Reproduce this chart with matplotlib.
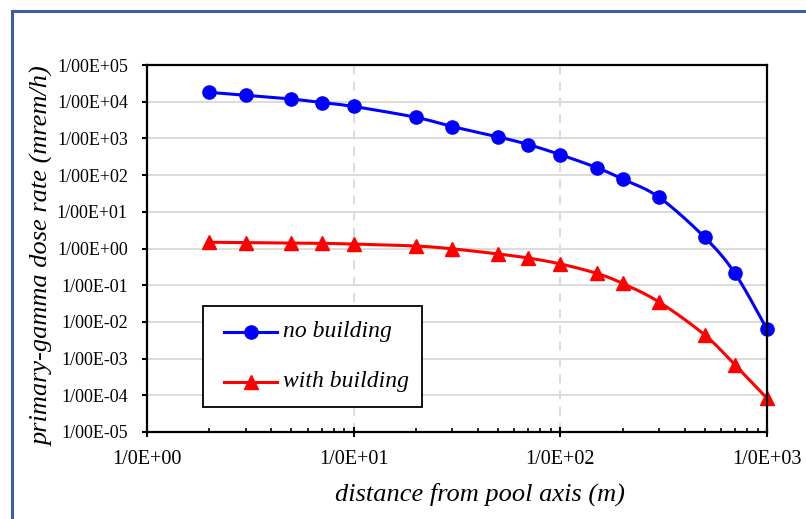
import numpy as np
import matplotlib
matplotlib.use("Agg")
import matplotlib.pyplot as plt
from matplotlib.ticker import FuncFormatter, LogLocator, NullFormatter
from matplotlib.lines import Line2D
from matplotlib.patches import Rectangle

# distance from pool axis (m)
dist = [2, 3, 5, 7, 10, 20, 30, 50, 70, 100, 150, 200, 300, 500, 700, 1000]
# dose rates (mrem/h)
no_building = [1.8e4, 1.5e4, 1.18e4, 9.5e3, 7.4e3, 3.76e3, 2.1e3, 1.1e3, 680,
               360, 160, 78, 25, 2.0, 0.21, 0.0063]
with_building = [1.48, 1.45, 1.42, 1.39, 1.32, 1.17, 0.98, 0.71, 0.55,
                 0.38, 0.21, 0.112, 0.035, 0.0044, 6.7e-4, 8.3e-5]
labels = ['no building', 'with building']

plt.rcParams['font.family'] = ['Liberation Serif', 'DejaVu Serif']

W, H = 806, 519
fig = plt.figure(figsize=(W/100, H/100), dpi=100)
ax = fig.add_axes([147/W, 1-432/H, 620/W, 367/H])


def smooth(x, y, n=30):
    # Excel-like smoothed line: Catmull-Rom in (scaled) log space
    u = np.log10(x)*206.7
    v = np.log10(y)*36.7
    P = np.column_stack([u, v])
    P = np.vstack([P[0], P, P[-1]])
    out = []
    t = np.linspace(0, 1, n)[:, None]
    for i in range(1, len(P)-2):
        p0, p1, p2, p3 = P[i-1], P[i], P[i+1], P[i+2]
        c1 = p1 + (p2-p0)/6
        c2 = p2 - (p3-p1)/6
        seg = (1-t)**3*p1 + 3*(1-t)**2*t*c1 + 3*(1-t)*t**2*c2 + t**3*p2
        out.append(seg)
    out = np.vstack(out)
    return 10**(out[:, 0]/206.7), 10**(out[:, 1]/36.7)


sx, sy = smooth(dist, no_building)
ax.plot(sx, sy, color='#0000ff', lw=2.2, zorder=3, clip_on=False)
ax.plot(dist, no_building, 'o', color='#0000ff', ms=9.5, zorder=4, clip_on=False)
sx, sy = smooth(dist, with_building)
ax.plot(sx, sy, color='#ff0000', lw=2.2, zorder=3, clip_on=False)
ax.plot(dist, with_building, '^', color='#ff0000', ms=10, zorder=4, clip_on=False)

ax.set_xscale('log')
ax.set_yscale('log')
ax.set_xlim(1, 1000)
ax.set_ylim(1e-5, 1e5)

ax.yaxis.set_major_locator(LogLocator(base=10, numticks=20))
ax.yaxis.set_minor_locator(LogLocator(base=10, subs=[], numticks=20))
ax.xaxis.set_major_locator(LogLocator(base=10, numticks=10))
ax.xaxis.set_minor_locator(LogLocator(base=10, subs=np.arange(2, 10), numticks=10))
ax.xaxis.set_minor_formatter(NullFormatter())


def fmt_y(v, pos):
    e = int(round(np.log10(v)))
    return "1/00E%+03d" % e


def fmt_x(v, pos):
    e = int(round(np.log10(v)))
    return "1/0E%+03d" % e


ax.yaxis.set_major_formatter(FuncFormatter(fmt_y))
ax.xaxis.set_major_formatter(FuncFormatter(fmt_x))

ax.tick_params(axis='y', which='major', direction='out', length=3.8, width=1.5,
               labelsize=13, pad=10)
ax.tick_params(axis='x', which='major', direction='inout', length=7.5, width=1.5,
               labelsize=14.5, pad=9)
ax.tick_params(axis='x', which='minor', direction='in', length=2.8, width=1.2)

ax.grid(True, axis='y', which='major', color='#d9d9d9', lw=1.3, zorder=0)
ax.grid(True, axis='x', which='major', color='#d9d9d9', lw=1.3, ls=(0, (5, 4)), zorder=0)
ax.set_axisbelow(True)
for sp in ax.spines.values():
    sp.set_color('black')
    sp.set_linewidth(1.6)
    sp.set_zorder(5)

# legend box, drawn in figure pixels to match the reference placement
px = lambda x, y: (x/W, 1-y/H)
fig.add_artist(Rectangle(px(203, 407), 219/W, 101/H, transform=fig.transFigure,
                         facecolor='white', edgecolor='black', lw=1.3, zorder=6))
styles = [('#0000ff', 'o', 9.5), ('#ff0000', '^', 10)]
for i, (lab, (c, m, s)) in enumerate(zip(labels, styles)):
    yy = 332 + 50*i
    fig.add_artist(Line2D([224/W, 277/W], [1-yy/H]*2, color=c, lw=2.2,
                          transform=fig.transFigure, zorder=7))
    fig.add_artist(Line2D([250.5/W], [1-yy/H], color=c, marker=m, ms=s, ls='none',
                          transform=fig.transFigure, zorder=7))
    fig.text(283/W, 1-yy/H, lab, ha='left', va='center', fontsize=17,
             style='italic', zorder=8)

fig.text(43/W, 1-256/H, 'primary-gamma dose rate (mrem/h)', rotation=90,
         ha='center', va='center', fontsize=19, style='italic')
fig.text(480/W, 1-494/H, 'distance from pool axis (m)',
         ha='center', va='center', fontsize=19, style='italic')

# outer chart frame
fig.add_artist(Line2D([12/W, 12/W], [0, 1-11/H], color='#3a5fa0', lw=2.2,
                      transform=fig.transFigure))
fig.add_artist(Line2D([12/W, 1], [1-11/H, 1-11/H], color='#3a5fa0', lw=2.2,
                      transform=fig.transFigure))

fig.savefig('out.png', dpi=100)
